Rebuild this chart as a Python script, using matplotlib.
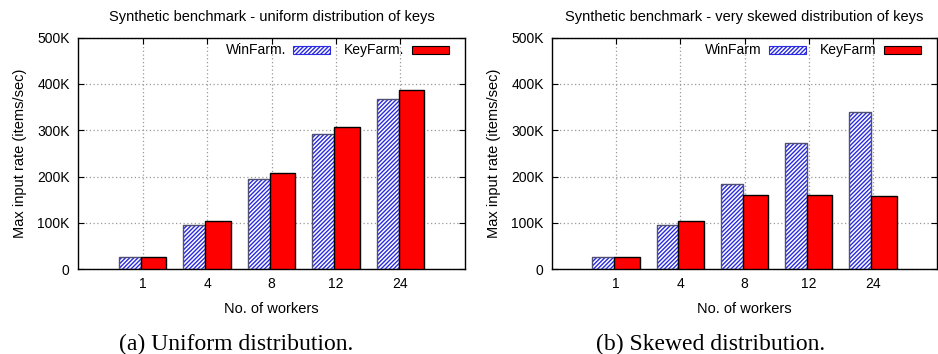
import matplotlib.pyplot as plt
import matplotlib.patches as mpatches
import numpy as np

plt.rcParams['font.family'] = ['Liberation Sans', 'DejaVu Sans']
plt.rcParams['hatch.linewidth'] = 1.0

# data (items/sec)
workers = ['1', '4', '8', '12', '24']
uni_win = [25000, 95000, 194000, 291000, 368000]
uni_key = [26500, 104000, 206500, 307000, 387000]
skew_win = [26500, 95000, 184000, 272000, 339000]
skew_key = [26500, 104000, 160000, 160000, 158000]

titles = ['Synthetic benchmark - uniform distribution of keys',
          'Synthetic benchmark - very skewed distribution of keys']
legends = [('WinFarm.', 'KeyFarm.'), ('WinFarm', 'KeyFarm')]
captions = ['(a) Uniform distribution.', '(b) Skewed distribution.']

fig = plt.figure(figsize=(9.38, 3.54), dpi=100)
ax1 = fig.add_axes([0.0832, 0.240, 0.4125, 0.6535])
ax2 = fig.add_axes([0.5885, 0.240, 0.4105, 0.6535])

HATCH = '////////'
x = np.arange(len(workers))
for ax, win, key, title, (lw, lk) in zip([ax1, ax2], [uni_win, skew_win],
                                          [uni_key, skew_key], titles, legends):
    # hatched bars: blue stripes on white, grey outline on top
    ax.bar(x - 0.37, win, width=0.34, align='edge', facecolor='white',
           edgecolor='#2a2ae0', hatch=HATCH, linewidth=0, zorder=2)
    ax.bar(x - 0.37, win, width=0.34, align='edge', fill=False,
           edgecolor='#505070', linewidth=1.0, zorder=3)
    ax.bar(x - 0.03, key, width=0.40, align='edge', color='#ff0000',
           edgecolor='black', linewidth=1.0, zorder=3)
    ax.set_xlim(-1, 5)
    ax.set_ylim(0, 500000)
    ax.set_xticks(x)
    ax.set_xticklabels(workers)
    ax.set_yticks([0, 100000, 200000, 300000, 400000, 500000])
    ax.set_yticklabels(['0', '100K', '200K', '300K', '400K', '500K'])
    ax.tick_params(direction='in', top=True, right=True, labelsize=10, length=4,
                   pad=6)
    ax.grid(True, linestyle=(0, (1, 2)), color='#999999', linewidth=0.9, zorder=0)
    ax.set_axisbelow(True)
    ax.set_title(title, fontsize=10.5, pad=12)
    ax.set_xlabel('No. of workers', fontsize=10.5, labelpad=8)
    ax.set_ylabel('Max input rate (items/sec)', fontsize=10.5, labelpad=7)
    for s in ax.spines.values():
        s.set_linewidth(1.0)
    # legend: text first, then sample
    h1 = mpatches.Patch(facecolor='white', edgecolor='#2a2ae0', hatch=HATCH,
                        linewidth=0.8)
    h2 = mpatches.Patch(facecolor='#ff0000', edgecolor='black', linewidth=0.8)
    ax.legend([h1, h2], [lw, lk], loc='upper right', ncol=2, frameon=False,
              markerfirst=False, fontsize=10, handlelength=2.7,
              handleheight=0.5, columnspacing=1.0, handletextpad=0.5,
              borderaxespad=0.1, bbox_to_anchor=(0.977, 1.005))

fig.text(0.252, 0.010, captions[0], fontsize=17, family='Liberation Serif',
         ha='center')
fig.text(0.757, 0.010, captions[1], fontsize=17, family='Liberation Serif',
         ha='center')

plt.savefig('out.png', dpi=100)
